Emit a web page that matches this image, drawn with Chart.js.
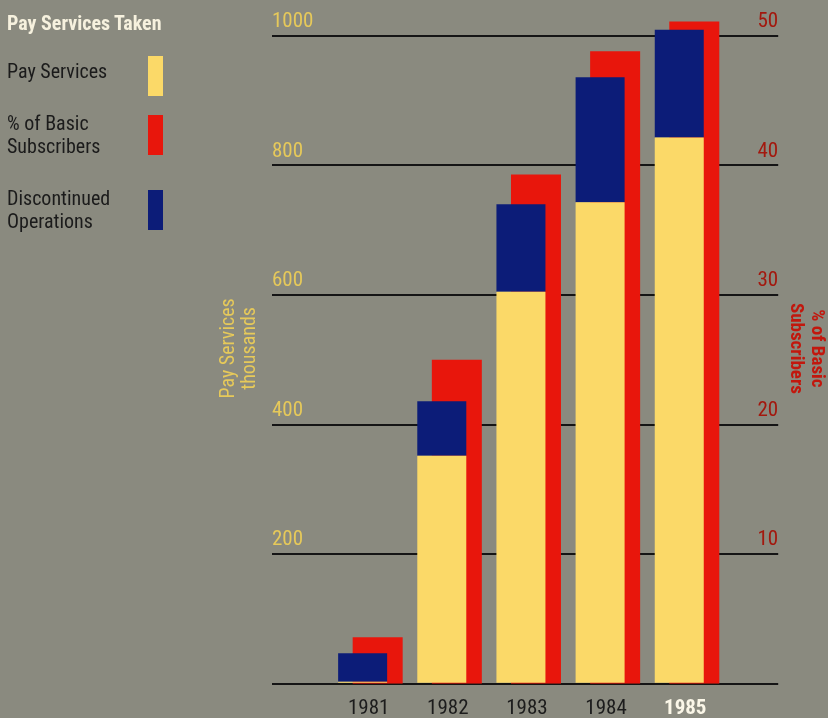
<!DOCTYPE html>
<html>
<head>
<meta charset="utf-8">
<script src="https://cdn.jsdelivr.net/npm/chart.js@4.4.1/dist/chart.umd.min.js"></script>
<style>
  html, body { margin: 0; padding: 0; background: #8a8a7f; overflow: hidden; }
  #wrap { position: relative; width: 828px; height: 718px; }
  #pay_chart { position: absolute; left: 0; top: 0; }
  .lg { position: absolute; font-family: Roboto, sans-serif; font-stretch: 75%; font-size: 20px; line-height: 23px; color: #1b1b1b; white-space: nowrap; }
  .lg-title { font-weight: bold; color: #f6f1de; }
  .sw { position: absolute; width: 15px; height: 40px; }
</style>
</head>
<body>
<div id="wrap">
  <canvas id="pay_chart" width="828" height="718"></canvas>
  <div class="lg lg-title" style="left:7px;top:12px;">Pay Services Taken</div>
  <div class="lg" style="left:7px;top:60px;">Pay Services</div>
  <div class="lg" style="left:7px;top:112px;">% of Basic<br>Subscribers</div>
  <div class="lg" style="left:7px;top:187px;">Discontinued<br>Operations</div>
  <div class="sw" style="left:148px;top:56px;background:#fbd968;"></div>
  <div class="sw" style="left:148px;top:115px;background:#e8160c;"></div>
  <div class="sw" style="left:148px;top:190px;background:#0c1c78;"></div>
</div>
<script>
// values
const years = [1981, 1982, 1983, 1984, 1985];
const payServices = [3, 352, 605, 743, 843];      // thousands
const discontinued = [44, 84, 135, 193, 166];     // thousands, stacked on top
const pctBasic = [3.6, 25, 39.3, 48.8, 51.1];     // % of basic subscribers
const leftTicks = [200, 400, 600, 800, 1000];
const rightTicks = [10, 20, 30, 40, 50];

// condensed face: Roboto has a width axis, the canvas font shorthand takes "condensed"
const cond = "Roboto, sans-serif";
const xMin = 1979.855, xMax = 1986.25, redShift = 0.19;

const pts = arr => arr.map((v, i) => ({ x: years[i], y: v }));

const ctx = document.getElementById('pay_chart').getContext('2d');
new Chart(ctx, {
  type: 'bar',
  data: {
    datasets: [{
      label: 'Pay Services',
      data: pts(payServices),
      backgroundColor: '#fbd968',
      stack: 'pay',
      xAxisID: 'x', yAxisID: 'y',
      maxBarThickness: 49,
      order: 1
    }, {
      label: 'Discontinued Operations',
      data: pts(discontinued),
      backgroundColor: '#0c1c78',
      stack: 'pay',
      xAxisID: 'x', yAxisID: 'y',
      maxBarThickness: 49,
      order: 1
    }, {
      label: '% of Basic Subscribers',
      data: pts(pctBasic),
      backgroundColor: '#e8160c',
      xAxisID: 'xr', yAxisID: 'yr',
      maxBarThickness: 50,
      order: 3
    }]
  },
  options: {
    responsive: false,
    animation: false,
    datasets: { bar: { grouped: false } },
    layout: { padding: { left: 218, right: 0, top: 13, bottom: -15 } },
    plugins: { legend: { display: false }, tooltip: { enabled: false } },
    scales: {
      x: {
        type: 'linear',
        offset: false,
        min: xMin, max: xMax,
        grid: { display: false, drawTicks: false, offset: false },
        border: { display: false },
        ticks: {
          stepSize: 1,
          includeBounds: false,
          autoSkip: false,
          maxRotation: 0,
          padding: 12,
          labelOffset: 6,
          callback: v => years.includes(v) ? String(v) : '',
          color: c => (c.tick && c.tick.value === 1985) ? '#fbf7e8' : '#1c1c1c',
          font: c => ({ family: cond, size: 21, lineHeight: 1.2, weight: (c.tick && c.tick.value === 1985) ? 'condensed bold' : 'condensed normal' })
        }
      },
      xr: {
        type: 'linear',
        display: false,
        offset: false,
        min: xMin - redShift, max: xMax - redShift
      },
      y: {
        position: 'left',
        stacked: true,
        min: 0, max: 1035,
        z: 1,
        grid: { color: '#151515', lineWidth: 2, drawTicks: false },
        border: { display: false },
        afterBuildTicks: s => { s.ticks = [0].concat(leftTicks).map(v => ({ value: v })); },
        ticks: {
          mirror: true,
          padding: 0,
          labelOffset: -14,
          color: '#e6c95a',
          font: { family: cond, size: 21, weight: 'condensed normal' },
          callback: v => v === 0 ? '' : String(v)
        },
        title: {
          display: true,
          text: ['Pay Services', 'thousands'],
          color: '#e6c95a',
          font: { family: cond, size: 20, lineHeight: 1.05, weight: 'condensed normal' },
          padding: { top: 0, bottom: 12 }
        }
      },
      yr: {
        position: 'right',
        min: 0, max: 51.75,
        z: 1,
        grid: { display: false, drawTicks: false },
        border: { display: false },
        afterBuildTicks: s => { s.ticks = rightTicks.map(v => ({ value: v })); },
        ticks: {
          mirror: true,
          padding: 0,
          labelOffset: -14,
          color: '#a3180e',
          font: { family: cond, size: 21, weight: 'condensed normal' }
        },
        title: {
          display: true,
          text: ['% of Basic', 'Subscribers'],
          color: '#c2170d',
          font: { family: cond, size: 19, lineHeight: 1.1, weight: 'condensed bold' },
          padding: { top: 1, bottom: 7 }
        }
      }
    }
  }
});
</script>
</body>
</html>
